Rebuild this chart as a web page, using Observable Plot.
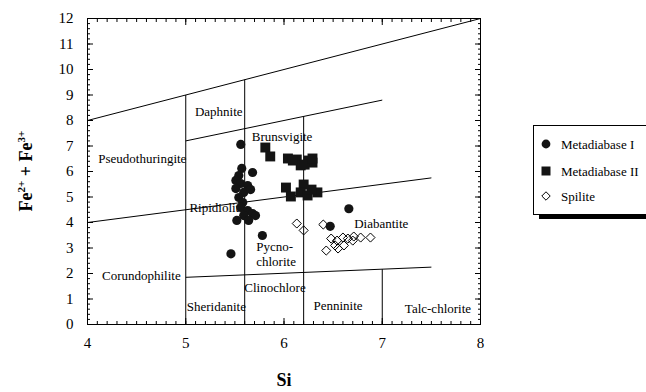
<!DOCTYPE html>
<html>
<head>
<meta charset="utf-8">
<script src="https://cdn.jsdelivr.net/npm/d3@7"></script>
<script src="https://cdn.jsdelivr.net/npm/@observablehq/plot@0.6"></script>
<style>
html, body { margin: 0; padding: 0; background: #fff; overflow: hidden; }
#wrap { position: relative; width: 646px; height: 392px; overflow: hidden; font-family: "Liberation Serif", serif; color: #000; }
#wrap > svg { position: absolute; left: 0; top: 0; }
#wrap svg text { font-family: "Liberation Serif", serif; }
#ytitle { position: absolute; left: 26px; top: 171px; transform: translate(-50%, -50%) rotate(-90deg);
  font-weight: bold; font-size: 18px; white-space: nowrap; line-height: 18px; }
#ytitle sup { font-size: 11px; line-height: 0; vertical-align: 7px; }
#legend { position: absolute; left: 533px; top: 125px; width: 140px; height: 88px; border: 1px solid #000;
  box-shadow: 6px 4px 0 0 #000; background: #fff; }
</style>
</head>
<body>
<div id="wrap">
  <div id="ytitle">Fe<sup>2+</sup> + Fe<sup>3+</sup></div>
  <div id="legend"></div>
</div>
<script>
// ---- data ----
const xTicks = [4, 5, 6, 7, 8];
const yTicks = [0, 1, 2, 3, 4, 5, 6, 7, 8, 9, 10, 11, 12];
const xMinor = d3.range(40, 81).map(d => d / 10);
const yMinor = d3.range(0, 61).map(d => d / 5);

const seriesNames = ["Metadiabase I", "Metadiabase II", "Spilite"];

const md1Si = [5.56, 5.57, 5.54, 5.51, 5.56, 5.63, 5.51, 5.59, 5.54, 5.58, 5.56, 5.63, 5.68, 5.59, 5.71, 5.52, 5.64, 5.68, 5.66, 5.78, 5.46, 6.66, 6.47];
const md1Fe = [7.06, 6.12, 5.84, 5.65, 5.53, 5.45, 5.33, 5.18, 4.98, 4.78, 4.59, 4.47, 4.35, 4.27, 4.27, 4.08, 4.08, 5.96, 5.29, 3.49, 2.77, 4.54, 3.85];

const md2Si = [5.81, 5.86, 6.04, 6.13, 6.17, 6.25, 6.29, 6.21, 6.09, 6.29, 6.02, 6.07, 6.20, 6.17, 6.24, 6.34, 6.28];
const md2Fe = [6.94, 6.59, 6.51, 6.47, 6.24, 6.43, 6.35, 6.27, 6.43, 6.51, 5.37, 5.02, 5.49, 5.18, 5.06, 5.18, 5.29];

const spSi = [6.13, 6.20, 6.40, 6.43, 6.48, 6.54, 6.52, 6.55, 6.60, 6.65, 6.70, 6.71, 6.78, 6.88, 6.61];
const spFe = [3.96, 3.69, 3.92, 2.90, 3.37, 3.29, 3.10, 2.98, 3.41, 3.37, 3.29, 3.45, 3.41, 3.41, 3.10];

// field boundaries (Hey diagram)
const boundX1 = [4, 5, 5.6, 5, 6.2, 4, 5, 7];
const boundY1 = [8, 0, 0, 7.2, 0, 4, 1.85, 0];
const boundX2 = [8, 5, 5.6, 7, 6.2, 7.5, 7.5, 7];
const boundY2 = [12, 9, 9.6, 8.8, 8.16, 5.75, 2.25, 2.17];

// field names
const fieldNames = ["Daphnite", "Brunsvigite", "Pseudothuringite", "Ripidiolite", "Diabantite", "Corundophilite", "Clinochlore", "Sheridanite", "Penninite", "Talc-chlorite"];
const fieldX = [5.336, 5.98, 4.558, 5.32, 6.99, 4.548, 5.908, 5.311, 6.55, 7.567];
const fieldY = [8.34, 7.37, 6.50, 4.56, 3.93, 1.92, 1.42, 0.68, 0.75, 0.61];
const pycnoLines = ["Pycno-", "chlorite"];
const pycnoX = [5.717, 5.717];
const pycnoY = [3.03, 2.47];

// ---- tables ----
const md1 = md1Si.map((x, i) => ({x, y: md1Fe[i]}));
const md2 = md2Si.map((x, i) => ({x, y: md2Fe[i]}));
const sp = spSi.map((x, i) => ({x, y: spFe[i]}));
const bounds = boundX1.map((x1, i) => ({x1, y1: boundY1[i], x2: boundX2[i], y2: boundY2[i]}));
const fields = fieldNames.map((t, i) => ({t, x: fieldX[i], y: fieldY[i]}));
const pycno = pycnoLines.map((t, i) => ({t, x: pycnoX[i], y: pycnoY[i]}));

const blank = () => "";
const fmt = d => String(d);

const chart = Plot.plot({
  width: 646,
  height: 392,
  marginLeft: 87,
  marginRight: 166,
  marginTop: 18,
  marginBottom: 68,
  x: {domain: [4, 8]},
  y: {domain: [0, 12]},
  style: {fontFamily: "'Liberation Serif', serif", fontSize: "15px", color: "#000", background: "transparent"},
  marks: [
    // boundaries
    Plot.link(bounds, {x1: "x1", y1: "y1", x2: "x2", y2: "y2", stroke: "#000", strokeWidth: 1}),
    // minor ticks
    Plot.axisX(xMinor, {anchor: "bottom", tickSize: -3, tickFormat: blank, label: null}),
    Plot.axisX(xMinor, {anchor: "top", tickSize: -3, tickFormat: blank, label: null}),
    Plot.axisY(yMinor, {anchor: "left", tickSize: -3, tickFormat: blank, label: null}),
    Plot.axisY(yMinor, {anchor: "right", tickSize: -3, tickFormat: blank, label: null}),
    // major ticks
    Plot.axisX(xTicks, {anchor: "bottom", tickSize: -6, tickFormat: blank, label: null}),
    Plot.axisX(xTicks, {anchor: "top", tickSize: -6, tickFormat: blank, label: null}),
    Plot.axisY(yTicks, {anchor: "left", tickSize: -6, tickFormat: blank, label: null}),
    Plot.axisY(yTicks, {anchor: "right", tickSize: -6, tickFormat: blank, label: null}),
    // tick labels
    Plot.axisX(xTicks, {anchor: "bottom", tickSize: 0, tickPadding: 13, tickFormat: fmt, label: null, fontSize: 15}),
    Plot.axisY(yTicks, {anchor: "left", tickSize: 0, tickPadding: 14, tickFormat: fmt, label: null, fontSize: 15}),
    // x title
    Plot.text(["Si"], {frameAnchor: "bottom", dy: 61.5, fontSize: 18, fontWeight: "bold", fill: "#000"}),
    // field labels
    Plot.text(fields, {x: "x", y: "y", text: "t", fontSize: 13, fill: "#000"}),
    Plot.text(pycno, {x: "x", y: "y", text: "t", fontSize: 13, fill: "#000", textAnchor: "start"}),
    // data
    Plot.dot(sp, {x: "x", y: "y", symbol: "diamond2", r: 4.1, stroke: "#000", strokeWidth: 1, fill: "none"}),
    Plot.dot(md1, {x: "x", y: "y", symbol: "circle", r: 4.6, fill: "#141414", stroke: "none"}),
    Plot.dot(md2, {x: "x", y: "y", symbol: "square", r: 5.6, fill: "#141414", stroke: "none"}),
    Plot.frame({stroke: "#000", strokeWidth: 1})
  ]
});
document.getElementById("wrap").prepend(chart);

// ---- legend ----
const legendSymbols = [
  {sym: d3.symbolCircle, size: Math.PI * 4.4 * 4.4, fill: "#141414", stroke: "none"},
  {sym: d3.symbolSquare, size: 81, fill: "#141414", stroke: "none"},
  {sym: d3.symbolDiamond2, size: Math.PI * 3.8 * 3.8, fill: "none", stroke: "#000"}
];
const legendRowY = [18, 45, 70];
const lsvg = d3.select("#legend").append("svg").attr("width", 140).attr("height", 88)
  .style("position", "absolute").style("left", "0").style("top", "0");
seriesNames.forEach((name, i) => {
  const s = legendSymbols[i];
  lsvg.append("path")
    .attr("transform", `translate(12,${legendRowY[i]})`)
    .attr("d", d3.symbol(s.sym, s.size)())
    .attr("fill", s.fill).attr("stroke", s.stroke).attr("stroke-width", 1);
  lsvg.append("text")
    .attr("x", 27).attr("y", legendRowY[i]).attr("dy", "0.35em")
    .attr("font-size", 13).attr("fill", "#000")
    .text(name);
});
</script>
</body>
</html>
